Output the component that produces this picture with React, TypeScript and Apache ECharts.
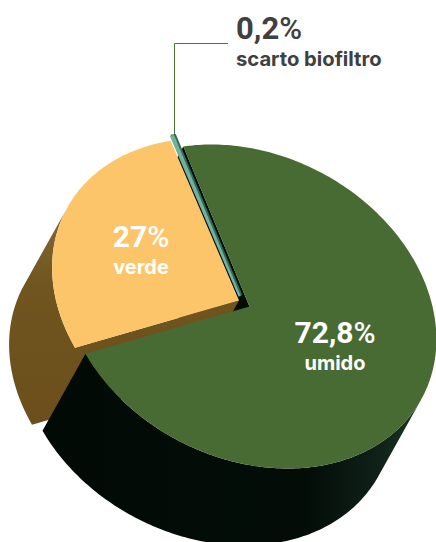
import React, { useEffect, useRef } from "react";
import * as echarts from "echarts";

const categories = ["umido", "verde", "scarto biofiltro"];
const values = [72.8, 27, 0.2];
const valueLabels = ["72,8", "27", "0,2"];

const W = 436;
const H = 542;
const CENTER = [249.5, 306.5];
// affine map of the unit disc on to the tilted top face
const AX = 183;
const BX = 38;
const CY = 162;
const EXTRUDE = [-43, 77];
const START_DEG = -99;
const OFFSETS = [
  [0, 0],
  [-10.5, -6],
  [-9.5, -10.5],
];
const TOP_COLORS = ["#486b33", "#fdc56a", "#74b09d"];
const LABEL_LAYOUT = [
  { x: 335, big: 332, small: 363, bigSize: 30, smallSize: 20, fill: "#ffffff", align: "center" },
  { x: 141, big: 236, small: 267, bigSize: 30, smallSize: 20, fill: "#ffffff", align: "center" },
  { x: 236, big: 28, small: 58, bigSize: 31, smallSize: 20.2, fill: "#404040", align: "left" },
];
const LEADER = [[174.5, 43.5], [228, 43.5]];

const FONT_BIG = "Roboto, sans-serif";
const FONT_SMALL = "Inter, sans-serif";
const rad = (d: number) => (d * Math.PI) / 180;
const pt = (t: number, o: number[], e = [0, 0]) => {
  const ux = Math.cos(t);
  const uy = Math.sin(t);
  return [CENTER[0] + o[0] + e[0] + AX * ux + BX * uy, CENTER[1] + o[1] + e[1] + CY * uy];
};
const sample = (a: number, b: number) => {
  const n = Math.max(2, Math.ceil(Math.abs(b - a) / rad(1)));
  return Array.from({ length: n + 1 }, (_, i) => a + ((b - a) * i) / n);
};
// direction of the extrusion in disc space
const eUy = EXTRUDE[1] / CY;
const eUx = (EXTRUDE[0] - BX * eUy) / AX;
const facing = (t: number) => Math.cos(t) * eUx + Math.sin(t) * eUy >= 0;

const renderItem = (params: any, api: any) => {
  const i = params.dataIndex;
  const total = values.reduce((s, v) => s + v, 0);
  const before = values.slice(0, i).reduce((s, v) => s + v, 0);
  const t0 = rad(START_DEG) + (before / total) * 2 * Math.PI;
  const t1 = t0 + (api.value(0) / total) * 2 * Math.PI;
  const o = OFFSETS[i];
  const apex = [CENTER[0] + o[0], CENTER[1] + o[1]];
  const apexLow = [apex[0] + EXTRUDE[0], apex[1] + EXTRUDE[1]];
  const arc = sample(t0, t1);
  const top = [apex, ...arc.map((t) => pt(t, o))];
  const front = arc.filter(facing);
  const sideShape = [...front.map((t) => pt(t, o)), ...front.slice().reverse().map((t) => pt(t, o, EXTRUDE))];
  const children: any[] = [];
  const L = LABEL_LAYOUT[i];

  if (i === 0) {
    const s = pt(t0, o);
    children.push({
      type: "polygon",
      z2: 1,
      shape: { points: [apex, s, [s[0] + EXTRUDE[0], s[1] + EXTRUDE[1]], apexLow] },
      style: { fill: "#030d07" },
    });
    children.push({
      type: "polygon",
      z2: 4,
      shape: { points: sideShape },
      style: {
        fill: {
          type: "linear", x: 0, y: 0, x2: 1, y2: 0,
          colorStops: [
            { offset: 0, color: "#020a05" },
            { offset: 0.7, color: "#030d07" },
            { offset: 0.9, color: "#10221a" },
            { offset: 1, color: "#1f3a1e" },
          ],
        },
      },
    });
    children.push({ type: "polygon", z2: 5, shape: { points: top }, style: { fill: TOP_COLORS[0] } });
  }
  if (i === 1) {
    // end wall and curved side as one outline, so that no seam shows
    children.push({
      type: "polygon",
      z2: 2,
      shape: { points: [apex, ...sideShape, apexLow] },
      style: {
        fill: {
          type: "linear", x: 0, y: 0, x2: 0, y2: 1,
          colorStops: [
            { offset: 0, color: "#846a37" },
            { offset: 0.35, color: "#70551f" },
            { offset: 1, color: "#6c4f1c" },
          ],
        },
      },
    });
    children.push({ type: "polygon", z2: 6, shape: { points: top }, style: { fill: TOP_COLORS[1] } });
  }
  if (i === 2) {
    children.push({
      type: "polygon",
      z2: 7,
      x: 1,
      y: -0.4,
      shape: { points: top },
      style: { fill: "#2c6b5c", stroke: "#2c6b5c", lineWidth: 3 },
    });
    children.push({
      type: "polygon",
      z2: 8,
      x: -0.4,
      y: 0.2,
      shape: { points: top },
      style: { fill: TOP_COLORS[2], stroke: TOP_COLORS[2], lineWidth: 2.2 },
    });
    const rim = pt(t0, o);
    children.push({
      type: "polyline",
      z2: 9,
      shape: { points: [[LEADER[0][0], rim[1]], ...LEADER] },
      style: { fill: "none", stroke: "#4a7535", lineWidth: 1 },
    });
  }
  children.push({
    type: "text",
    z2: 10,
    x: L.x,
    y: L.big,
    style: {
      text: `{a|${api.value(1)}}{b|%}`,
      align: L.align,
      verticalAlign: "middle",
      rich: {
        a: { fontFamily: FONT_BIG, fontWeight: 700, fontSize: L.bigSize, fill: L.fill, lineHeight: 34 },
        b: { fontFamily: FONT_BIG, fontWeight: 500, fontSize: L.bigSize, fill: L.fill, lineHeight: 34 },
      },
    },
  });
  children.push({
    type: "text",
    z2: 10,
    x: L.x,
    y: L.small,
    style: {
      text: api.value(2),
      align: L.align,
      verticalAlign: "middle",
      fontFamily: FONT_SMALL,
      fontWeight: 700,
      fontSize: L.smallSize,
      fill: L.fill,
    },
  });
  return { type: "group", children };
};

export default function App() {
  const ref = useRef<HTMLDivElement>(null);
  useEffect(() => {
    document.body.style.margin = "0";
    const chart = echarts.init(ref.current!, null, { renderer: "svg" });
    chart.setOption({
      animation: false,
      backgroundColor: "#ffffff",
      series: [
        {
          type: "custom",
          coordinateSystem: "none",
          renderItem,
          silent: true,
          dimensions: ["value", "label", "name"],
          encode: { value: 0 },
          data: values.map((v, i) => [v, valueLabels[i], categories[i]]),
        },
      ],
    });
    return () => chart.dispose();
  }, []);
  return <div ref={ref} style={{ position: "absolute", left: 0, top: 0, width: W, height: H }} />;
}
